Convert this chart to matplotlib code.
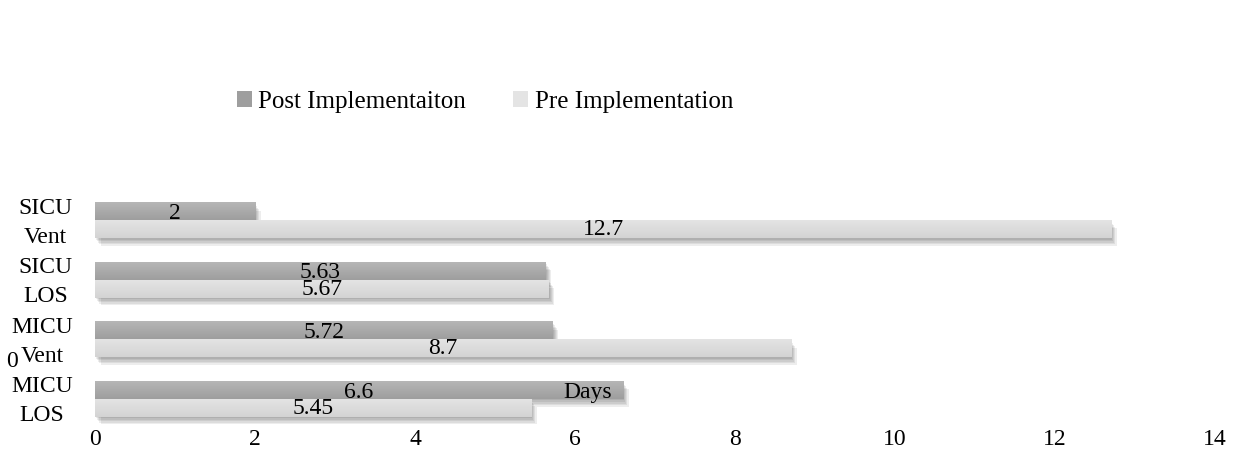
import numpy as np
import matplotlib
matplotlib.use('Agg')
import matplotlib.pyplot as plt
import matplotlib.patheffects as pe
import matplotlib.transforms as mtransforms
from matplotlib.patches import Patch

# Data (days)
categories = ['MICU\nLOS', 'MICU\nVent', 'SICU\nLOS', 'SICU\nVent']
post_values = [6.6, 5.72, 5.63, 2]
pre_values = [5.45, 8.7, 5.67, 12.7]
post_labels = ['6.6', '5.72', '5.63', '2']
pre_labels = ['5.45', '8.7', '5.67', '12.7']
x_ticks = [0, 2, 4, 6, 8, 10, 12, 14]

plt.rcParams['font.family'] = ['Liberation Serif', 'DejaVu Serif']

fig = plt.figure(figsize=(12.56, 4.68), dpi=100)
ax = fig.add_axes([0.0756, 0.0833, 0.8918, 0.5092])

y = np.arange(len(categories))
h = 0.29
off = 0.15
fs = 17

post_colors = ('#b6b6b6', '#9e9e9e')
pre_colors = ('#e4e4e4', '#d3d3d3')

# soft drop shadow: several faint offset copies
shadow = [pe.SimplePatchShadow(offset=(0.8 * k, -1.1 * k), shadow_rgbFace='k', alpha=0.07)
          for k in range(1, 6)]
shadow.append(pe.Normal())

post_bars = ax.barh(y + off, post_values, height=h, color=post_colors[1],
                    linewidth=0, zorder=2)
pre_bars = ax.barh(y - off, pre_values, height=h, color=pre_colors[1],
                   linewidth=0, zorder=2)


def shade(bars, colors):
    # vertical gradient laid over each bar, lighter on top
    c_top = np.array(matplotlib.colors.to_rgb(colors[0]))
    c_bot = np.array(matplotlib.colors.to_rgb(colors[1]))
    t = np.linspace(0, 1, 64)[:, None]
    grad = (c_top * (1 - t) + c_bot * t)[:, None, :]
    for b in bars:
        b.set_path_effects(shadow)
        x0, y0 = b.get_x(), b.get_y()
        ax.imshow(grad, extent=[x0, x0 + b.get_width(), y0, y0 + b.get_height()],
                  aspect='auto', origin='upper', zorder=3, interpolation='bilinear')


shade(post_bars, post_colors)
shade(pre_bars, pre_colors)

for i in range(len(categories)):
    ax.text(post_values[i] / 2, y[i] + off - 0.03, post_labels[i], ha='center',
            va='center', fontsize=fs, zorder=5)
    ax.text(pre_values[i] / 2, y[i] - off, pre_labels[i], ha='center',
            va='center', fontsize=fs, zorder=5)

ax.set_xlim(0, 14)
ax.set_ylim(-0.5, 3.5)
ax.set_xticks(x_ticks)
ax.set_xticklabels([str(v) for v in x_ticks], fontsize=fs)
ax.set_yticks(y)
ax.set_yticklabels(categories, fontsize=fs, linespacing=1.5, multialignment='center')
ax.tick_params(axis='x', length=0, pad=0)
ax.tick_params(axis='y', length=0, pad=16)
# nudge the two-line category labels up a little
nudge = mtransforms.ScaledTranslation(0, 3.2 / 72, fig.dpi_scale_trans)
for lbl in ax.get_yticklabels():
    lbl.set_transform(lbl.get_transform() + nudge)
for s in ax.spines.values():
    s.set_visible(False)

# stray labels from the original chart layout
ax.text(6.16, y[0] + off - 0.03, 'Days', ha='center', va='center', fontsize=fs, zorder=5)
fig.text(0.005, 0.228, '0', fontsize=fs, va='center')

handles = [Patch(facecolor=post_colors[1], label='Post Implementaiton'),
           Patch(facecolor=pre_colors[0], label='Pre Implementation')]
fig.legend(handles=handles, loc='center', bbox_to_anchor=(0.386, 0.782), ncol=2,
           frameon=False, fontsize=18, handlelength=0.6, handleheight=0.6,
           handletextpad=0.25, columnspacing=1.9)

fig.savefig('out.png', dpi=100)
